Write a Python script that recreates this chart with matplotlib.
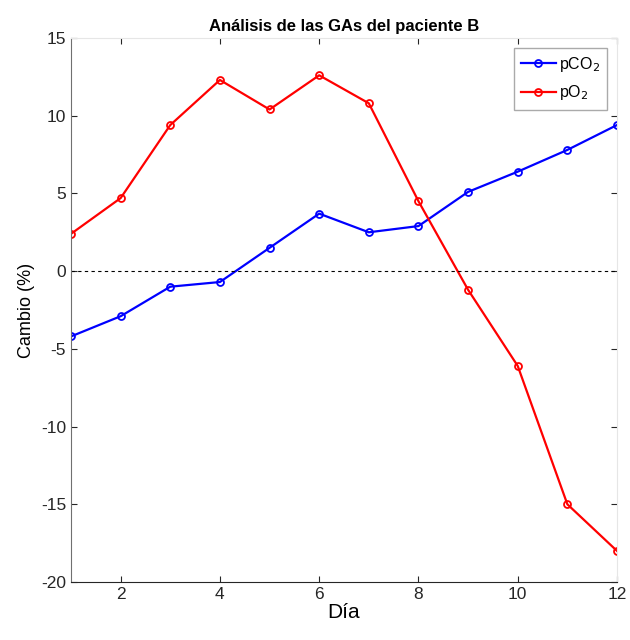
import matplotlib.pyplot as plt

plt.rcParams['font.family'] = ['Liberation Sans', 'DejaVu Sans']
plt.rcParams['axes.unicode_minus'] = False

# Datos
dias = [1, 2, 3, 4, 5, 6, 7, 8, 9, 10, 11, 12]
pco2 = [-4.2, -2.9, -1.0, -0.7, 1.5, 3.7, 2.5, 2.9, 5.1, 6.4, 7.8, 9.4]
po2 = [2.4, 4.7, 9.4, 12.3, 10.4, 12.6, 10.8, 4.5, -1.2, -6.1, -15.0, -18.0]

fig = plt.figure(figsize=(6.3, 6.4), dpi=100)
ax = fig.add_axes([71/630, 1 - 582/640, (617-71)/630, (582-38)/640])

ax.plot(dias, pco2, color='#0000ff', marker='o', markersize=5, markerfacecolor='none',
        markeredgewidth=1.3, linewidth=1.6, label='pCO$_2$')
ax.plot(dias, po2, color='#ff0000', marker='o', markersize=5, markerfacecolor='none',
        markeredgewidth=1.3, linewidth=1.6, label='pO$_2$')
ax.axhline(0, color='k', linestyle='--', linewidth=0.8, dashes=(3, 3))

ax.set_xlim(1, 12)
ax.set_ylim(-20, 15)
ax.set_xticks([2, 4, 6, 8, 10, 12])
ax.set_yticks([-20, -15, -10, -5, 0, 5, 10, 15])
ax.tick_params(direction='in', length=4, labelsize=12.5, colors='#262626',
               top=True, right=True)

for side in ['top', 'right']:
    ax.spines[side].set_color('#e6e6e6')
ax.spines['left'].set_color('#707070')
ax.spines['bottom'].set_color('#262626')

ax.set_title('Análisis de las GAs del paciente B', fontsize=12, fontweight='bold', pad=5)
ax.set_xlabel('Día', fontsize=15, labelpad=1)
ax.set_ylabel('Cambio (%)', fontsize=13, labelpad=4)

leg = ax.legend(loc='upper right', fontsize=11.5, handlelength=2.2, handletextpad=0.2,
                borderpad=0.45, labelspacing=0.6, borderaxespad=0.6,
                fancybox=False, framealpha=1, edgecolor='#aaaaaa')

fig.savefig('out.png', dpi=100)
